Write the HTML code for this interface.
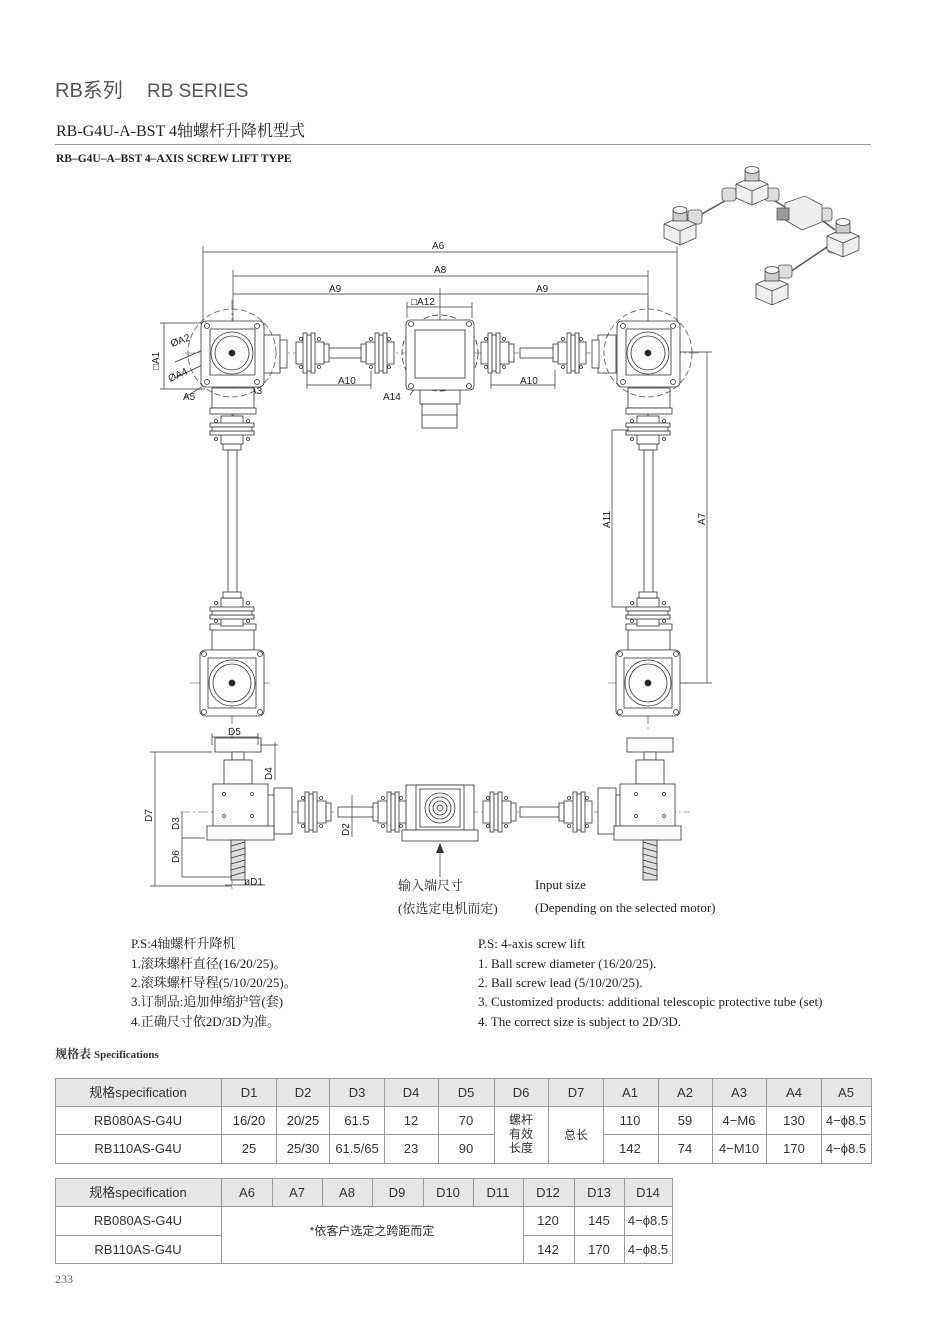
<!DOCTYPE html>
<html><head><meta charset="utf-8"><style>
html,body{margin:0;padding:0;background:#fff;}
svg{display:block;}
.s{font-family:"Liberation Serif","Noto Serif CJK SC",serif;}
.a{font-family:"Liberation Sans","Noto Sans CJK SC",sans-serif;}
</style></head><body>
<svg width="950" height="1319" viewBox="0 0 950 1319" xmlns="http://www.w3.org/2000/svg">
<defs>
<g id="cpH" fill="#fff" stroke="#333" stroke-width="0.8">
<rect x="-14" y="-11" width="28" height="22"/>
<rect x="-7" y="-20" width="4" height="40"/>
<rect x="1" y="-20" width="4" height="40"/>
<rect x="-3" y="-18" width="4" height="36"/>
<circle cx="-9" cy="-14" r="1.5"/><circle cx="-9" cy="14" r="1.5"/>
<circle cx="9" cy="-14" r="1.5"/><circle cx="9" cy="14" r="1.5"/>
<rect x="14" y="-9" width="5" height="18"/>
</g>
<g id="cpV" fill="#fff" stroke="#333" stroke-width="0.8">
<rect x="-11" y="-14" width="22" height="28"/>
<rect x="-22" y="-7" width="44" height="4"/>
<rect x="-22" y="1" width="44" height="4"/>
<rect x="-20" y="-3" width="40" height="4"/>
<circle cx="-16" cy="-9" r="1.5"/><circle cx="16" cy="-9" r="1.5"/>
<circle cx="-16" cy="9" r="1.5"/><circle cx="16" cy="9" r="1.5"/>
<rect x="-9" y="14" width="18" height="6"/>
</g>
<g id="gbTop" stroke="#333" stroke-width="0.8" fill="#fff">
<circle r="44" fill="none" stroke-dasharray="6 3" stroke="#555"/>
<rect x="-31" y="-32" width="63" height="66" rx="5"/>
<rect x="-22" y="-24" width="45" height="46"/>
<circle r="21"/><circle r="17"/>
<circle r="3" fill="#222"/>
<circle cx="-25" cy="-27" r="2.5"/><circle cx="25" cy="-27" r="2.5"/>
<circle cx="-25" cy="29" r="2.5"/><circle cx="25" cy="29" r="2.5"/>
</g>
<g id="gbBot" stroke="#333" stroke-width="0.8" fill="#fff">
<rect x="-32" y="-33" width="64" height="66" rx="5"/>
<rect x="-24" y="-25" width="48" height="50"/>
<circle r="23"/><circle r="19"/>
<circle r="3" fill="#222"/>
<circle cx="-28" cy="-29" r="2.5"/><circle cx="28" cy="-29" r="2.5"/>
<circle cx="-28" cy="29" r="2.5"/><circle cx="28" cy="29" r="2.5"/>
</g>
<g id="jack" stroke="#333" stroke-width="0.8" fill="#fff">
<rect x="-23" y="-70" width="46" height="14"/>
<rect x="-6" y="-56" width="12" height="8"/>
<rect x="-14" y="-48" width="28" height="24"/>
<rect x="-25" y="-24" width="55" height="42"/>
<rect x="-31" y="18" width="67" height="14"/>
<circle cx="-14" cy="-14" r="1.5"/><circle cx="14" cy="-14" r="1.5"/>
<circle cx="-14" cy="8" r="1.5"/><circle cx="14" cy="8" r="1.5"/>
<rect x="-7" y="32" width="14" height="40" fill="#ddd"/>
<path d="M-7 38 L7 34 M-7 44 L7 40 M-7 50 L7 46 M-7 56 L7 52 M-7 62 L7 58 M-7 68 L7 64" stroke="#333"/>
</g>
<g id="isoU" stroke="#444" stroke-width="0.8">
<path d="M-16 4 L0 -3 L16 4 L16 18 L0 25 L-16 18Z" fill="#eee"/>
<path d="M-16 4 L0 11 L16 4 M0 11 L0 25" fill="none"/>
<rect x="-7" y="-9" width="14" height="10" fill="#ccc"/>
<ellipse cx="0" cy="-10" rx="7" ry="3.5" fill="#f4f4f4"/>
</g>
</defs>

<!-- Header -->
<text x="55" y="97" class="a" font-size="20" fill="#555">RB系列</text>
<text x="147" y="97" class="a" font-size="19" fill="#555">RB SERIES</text>
<text x="56" y="136" class="s" font-size="16" fill="#222">RB-G4U-A-BST 4轴螺杆升降机型式</text>
<line x1="55" y1="144.5" x2="871" y2="144.5" stroke="#999" stroke-width="1"/>
<text x="56" y="162" class="s" font-size="11.5" font-weight="bold" fill="#222">RB–G4U–A–BST 4–AXIS SCREW LIFT TYPE</text>

<!-- iso view (approx) -->
<g stroke="#555" stroke-width="1.5">
<line x1="695" y1="218" x2="735" y2="195"/>
<line x1="765" y1="195" x2="790" y2="210"/>
<line x1="815" y1="215" x2="835" y2="230"/>
<line x1="830" y1="245" x2="790" y2="272"/>
</g>
<g stroke="#555" stroke-width="0.8" fill="#ddd">
<rect x="688" y="210" width="14" height="14" rx="3"/>
<rect x="722" y="188" width="14" height="13" rx="3"/><rect x="765" y="188" width="14" height="13" rx="3"/>
<rect x="818" y="208" width="14" height="13" rx="3"/><rect x="828" y="240" width="14" height="13" rx="3"/>
<rect x="778" y="265" width="14" height="13" rx="3"/>
<path d="M785 203 L805 196 L822 205 L822 222 L802 230 L785 220Z" fill="#eee"/>
<rect x="777" y="208" width="12" height="12" fill="#999"/>
</g>
<use href="#isoU" x="680" y="220"/>
<use href="#isoU" x="752" y="180"/>
<use href="#isoU" x="843" y="232"/>
<use href="#isoU" x="772" y="280"/>

<g stroke="#333" stroke-width="0.7" fill="none" class="a" font-size="10">
<!-- top dims -->
<line x1="203" y1="252" x2="677" y2="252"/>
<line x1="203" y1="246" x2="203" y2="335"/><line x1="677" y1="246" x2="677" y2="335"/>
<line x1="233" y1="276" x2="648" y2="276"/>
<line x1="233" y1="270" x2="233" y2="440"/><line x1="648" y1="270" x2="648" y2="440"/>
<line x1="233" y1="294" x2="648" y2="294"/><line x1="440" y1="288" x2="440" y2="405"/>
<line x1="407" y1="307" x2="472" y2="307"/><line x1="407" y1="302" x2="407" y2="318"/><line x1="472" y1="302" x2="472" y2="318"/>
<line x1="160" y1="323" x2="205" y2="323"/><line x1="160" y1="389" x2="205" y2="389"/><line x1="164" y1="323" x2="164" y2="389"/>
<line x1="307" y1="385" x2="371" y2="385"/><line x1="307" y1="370" x2="307" y2="389"/><line x1="371" y1="370" x2="371" y2="389"/>
<line x1="491" y1="385" x2="555" y2="385"/><line x1="491" y1="370" x2="491" y2="389"/><line x1="555" y1="370" x2="555" y2="389"/>
<line x1="612" y1="430" x2="612" y2="607"/><line x1="612" y1="430" x2="630" y2="430"/><line x1="612" y1="607" x2="630" y2="607"/>
<line x1="707" y1="352" x2="707" y2="683"/><line x1="680" y1="352" x2="712" y2="352"/><line x1="680" y1="683" x2="712" y2="683"/>
<line x1="175" y1="362" x2="250" y2="330"/><line x1="175" y1="378" x2="255" y2="340"/>
<line x1="185" y1="397" x2="205" y2="385"/><line x1="240" y1="365" x2="255" y2="390"/>
<line x1="410" y1="395" x2="425" y2="375"/><line x1="415" y1="372" x2="440" y2="353"/>
</g>
<g class="a" font-size="10" fill="#222">
<text x="432" y="249">A6</text><text x="434" y="273">A8</text>
<text x="329" y="292">A9</text><text x="536" y="292">A9</text>
<text x="411" y="305">□A12</text>
<text x="338" y="384">A10</text><text x="520" y="384">A10</text>
<text x="183" y="400">A5</text><text x="250" y="394">A3</text><text x="383" y="400">A14</text>
<text transform="translate(172,347) rotate(-20)">ØA2</text>
<text transform="translate(170,382) rotate(-25)">ØA4</text>
<text transform="translate(420,370) rotate(-35)">ØA13</text>
<text transform="translate(159,370) rotate(-90)">□A1</text>
<text transform="translate(610,528) rotate(-90)">A11</text>
<text transform="translate(705,525) rotate(-90)">A7</text>
</g>

<!-- top view machinery -->
<g stroke="#444" stroke-width="0.6" stroke-dasharray="10 3 2 3" fill="none">
<line x1="185" y1="353" x2="700" y2="353"/>
<line x1="232" y1="300" x2="232" y2="730"/><line x1="648" y1="300" x2="648" y2="730"/>
<line x1="190" y1="683" x2="270" y2="683"/><line x1="608" y1="683" x2="690" y2="683"/>
</g>
<g stroke="#333" stroke-width="0.8" fill="#fff">
<rect x="325" y="348" width="42" height="10"/><rect x="520" y="348" width="42" height="10"/>
<rect x="228" y="450" width="9" height="146"/><rect x="644" y="450" width="9" height="146"/>
<rect x="262" y="335" width="18" height="38"/><rect x="280" y="340" width="7" height="28"/>
<rect x="598" y="335" width="18" height="38"/><rect x="592" y="340" width="7" height="28"/>
<rect x="212" y="388" width="42" height="20"/><rect x="210" y="408" width="46" height="6"/>
<rect x="628" y="388" width="42" height="20"/><rect x="626" y="408" width="46" height="6"/>
<rect x="212" y="628" width="42" height="22"/><rect x="210" y="624" width="46" height="6"/>
<rect x="628" y="628" width="42" height="22"/><rect x="626" y="624" width="46" height="6"/>
<rect x="420" y="390" width="40" height="14"/><rect x="422" y="404" width="35" height="24"/>
<line x1="422" y1="415" x2="457" y2="415"/>
</g>
<use href="#gbTop" x="232" y="353"/>
<use href="#gbTop" x="648" y="353"/>
<g stroke="#333" stroke-width="0.8" fill="#fff">
<circle cx="440" cy="353" r="38" fill="none" stroke-dasharray="6 3"/>
<rect x="406" y="320" width="68" height="70" rx="4"/>
<rect x="415" y="330" width="50" height="48"/>
<circle cx="411" cy="324" r="2.5"/><circle cx="469" cy="324" r="2.5"/><circle cx="411" cy="386" r="2.5"/><circle cx="469" cy="386" r="2.5"/>
</g>
<use href="#cpH" x="310" y="353"/>
<g transform="translate(380,353) scale(-1,1)"><use href="#cpH"/></g>
<use href="#cpH" x="495" y="353"/>
<g transform="translate(572,353) scale(-1,1)"><use href="#cpH"/></g>
<use href="#cpV" x="232" y="430"/>
<g transform="translate(232,612) scale(1,-1)"><use href="#cpV"/></g>
<use href="#cpV" x="648" y="430"/>
<g transform="translate(648,612) scale(1,-1)"><use href="#cpV"/></g>
<use href="#gbBot" x="232" y="683"/>
<use href="#gbBot" x="648" y="683"/>

<!-- front view -->
<g stroke="#444" stroke-width="0.6" stroke-dasharray="10 3 2 3" fill="none">
<line x1="180" y1="812" x2="690" y2="812"/>
<line x1="232" y1="730" x2="232" y2="890"/><line x1="655" y1="740" x2="655" y2="880"/>
</g>
<g stroke="#333" stroke-width="0.8" fill="#fff">
<rect x="338" y="807" width="42" height="10"/><rect x="520" y="807" width="42" height="10"/>
<rect x="262" y="795" width="12" height="34"/><rect x="274" y="788" width="18" height="46"/>
<rect x="598" y="788" width="18" height="46"/><rect x="616" y="795" width="12" height="34"/>
<rect x="406" y="785" width="68" height="45"/>
<rect x="416" y="785" width="48" height="45"/>
<rect x="420" y="789" width="40" height="38"/>
<circle cx="440" cy="808" r="15"/><circle cx="440" cy="808" r="11"/><circle cx="440" cy="808" r="7"/><circle cx="440" cy="808" r="3"/>
<rect x="402" y="830" width="76" height="11"/>
</g>
<use href="#jack" x="238" y="808"/>
<g transform="translate(650,808) scale(-1,1)"><use href="#jack"/></g>
<use href="#cpH" x="312" y="812"/>
<g transform="translate(392,812) scale(-1,1)"><use href="#cpH"/></g>
<use href="#cpH" x="497" y="812"/>
<g transform="translate(578,812) scale(-1,1)"><use href="#cpH"/></g>

<g stroke="#333" stroke-width="0.7" fill="none">
<line x1="212" y1="737" x2="258" y2="737"/><line x1="212" y1="733" x2="212" y2="745"/><line x1="258" y1="733" x2="258" y2="745"/>
<line x1="155" y1="752" x2="155" y2="886"/><line x1="150" y1="752" x2="212" y2="752"/><line x1="150" y1="886" x2="232" y2="886"/>
<line x1="182" y1="812" x2="182" y2="877"/><line x1="182" y1="838" x2="205" y2="838"/><line x1="182" y1="877" x2="232" y2="877"/>
<line x1="275" y1="742" x2="275" y2="780"/><line x1="260" y1="745" x2="278" y2="745"/>
<line x1="352" y1="795" x2="352" y2="837"/>
<line x1="440" y1="877" x2="440" y2="845"/>
<line x1="225" y1="885" x2="265" y2="885"/>
</g>
<path d="M436 853 L440 843 L444 853Z" fill="#333"/>
<g class="a" font-size="10" fill="#222">
<text x="228" y="735">D5</text>
<text transform="translate(152,822) rotate(-90)">D7</text>
<text transform="translate(179,830) rotate(-90)">D3</text>
<text transform="translate(179,863) rotate(-90)">D6</text>
<text transform="translate(272,780) rotate(-90)">D4</text>
<text transform="translate(349,836) rotate(-90)">D2</text>
<text x="244" y="885">øD1</text>
</g>
<text x="398" y="890" class="s" font-size="13" fill="#222">输入端尺寸</text>
<text x="398" y="913" class="s" font-size="13" fill="#222">(依选定电机而定)</text>
<text x="535" y="889" class="s" font-size="13" fill="#222">Input size</text>
<text x="535" y="912" class="s" font-size="13" fill="#222">(Depending on the selected motor)</text>

<!-- notes -->
<g class="s" font-size="13" fill="#222">
<text x="131" y="948">P.S:4轴螺杆升降机</text>
<text x="131" y="968">1.滚珠螺杆直径(16/20/25)。</text>
<text x="131" y="987">2.滚珠螺杆导程(5/10/20/25)。</text>
<text x="131" y="1006">3.订制品:追加伸缩护管(套)</text>
<text x="131" y="1026">4.正确尺寸依2D/3D为准。</text>
<text x="478" y="948">P.S: 4-axis screw lift</text>
<text x="478" y="968">1. Ball screw diameter (16/20/25).</text>
<text x="478" y="987">2. Ball screw lead (5/10/20/25).</text>
<text x="478" y="1006">3. Customized products: additional telescopic protective tube (set)</text>
<text x="478" y="1026">4. The correct size is subject to 2D/3D.</text>
</g>
<text x="55" y="1058" class="s" font-size="12" font-weight="bold" fill="#333">规格表 <tspan font-size="11">Specifications</tspan></text>

<!-- table 1 -->
<rect x="55" y="1078" width="816" height="28" fill="#e6e6e6"/>
<g stroke="#999" stroke-width="1" fill="none">
<rect x="55.5" y="1078.5" width="816" height="85"/>
<line x1="55" y1="1106.5" x2="871" y2="1106.5"/>
<line x1="55" y1="1134.5" x2="494" y2="1134.5"/><line x1="603" y1="1134.5" x2="871" y2="1134.5"/>
<line x1="221.5" y1="1078" x2="221.5" y2="1163"/><line x1="276.5" y1="1078" x2="276.5" y2="1163"/>
<line x1="329.5" y1="1078" x2="329.5" y2="1163"/><line x1="384.5" y1="1078" x2="384.5" y2="1163"/>
<line x1="438.5" y1="1078" x2="438.5" y2="1163"/><line x1="494.5" y1="1078" x2="494.5" y2="1163"/>
<line x1="548.5" y1="1078" x2="548.5" y2="1163"/><line x1="603.5" y1="1078" x2="603.5" y2="1163"/>
<line x1="658.5" y1="1078" x2="658.5" y2="1163"/><line x1="712.5" y1="1078" x2="712.5" y2="1163"/>
<line x1="766.5" y1="1078" x2="766.5" y2="1163"/><line x1="821.5" y1="1078" x2="821.5" y2="1163"/>
</g>
<g class="a" font-size="13" fill="#333" text-anchor="middle">
<text x="138" y="1097">规格specification</text>
<text x="249" y="1097">D1</text><text x="303" y="1097">D2</text><text x="357" y="1097">D3</text>
<text x="411" y="1097">D4</text><text x="466" y="1097">D5</text><text x="521" y="1097">D6</text>
<text x="576" y="1097">D7</text><text x="630" y="1097">A1</text><text x="685" y="1097">A2</text>
<text x="739" y="1097">A3</text><text x="794" y="1097">A4</text><text x="846" y="1097">A5</text>
<text x="138" y="1125">RB080AS-G4U</text>
<text x="249" y="1125">16/20</text><text x="303" y="1125">20/25</text><text x="357" y="1125">61.5</text>
<text x="411" y="1125">12</text><text x="466" y="1125">70</text>
<text x="630" y="1125">110</text><text x="685" y="1125">59</text><text x="739" y="1125">4−M6</text>
<text x="794" y="1125">130</text><text x="846" y="1125">4−ϕ8.5</text>
<text x="138" y="1153">RB110AS-G4U</text>
<text x="249" y="1153">25</text><text x="303" y="1153">25/30</text><text x="357" y="1153">61.5/65</text>
<text x="411" y="1153">23</text><text x="466" y="1153">90</text>
<text x="630" y="1153">142</text><text x="685" y="1153">74</text><text x="739" y="1153">4−M10</text>
<text x="794" y="1153">170</text><text x="846" y="1153">4−ϕ8.5</text>
<text x="521" y="1124" font-size="12">螺杆</text><text x="521" y="1138" font-size="12">有效</text><text x="521" y="1152" font-size="12">长度</text>
<text x="576" y="1139" font-size="12">总长</text>
</g>

<!-- table 2 -->
<rect x="55" y="1178" width="618" height="28" fill="#e6e6e6"/>
<g stroke="#999" stroke-width="1" fill="none">
<rect x="55.5" y="1178.5" width="617" height="85"/>
<line x1="55" y1="1206.5" x2="673" y2="1206.5"/>
<line x1="55" y1="1235.5" x2="221" y2="1235.5"/><line x1="523" y1="1235.5" x2="673" y2="1235.5"/>
<line x1="221.5" y1="1178" x2="221.5" y2="1263"/>
<line x1="272.5" y1="1178" x2="272.5" y2="1206"/><line x1="322.5" y1="1178" x2="322.5" y2="1206"/>
<line x1="372.5" y1="1178" x2="372.5" y2="1206"/><line x1="423.5" y1="1178" x2="423.5" y2="1206"/>
<line x1="473.5" y1="1178" x2="473.5" y2="1206"/>
<line x1="523.5" y1="1178" x2="523.5" y2="1263"/><line x1="574.5" y1="1178" x2="574.5" y2="1263"/>
<line x1="624.5" y1="1178" x2="624.5" y2="1263"/>
</g>
<g class="a" font-size="13" fill="#333" text-anchor="middle">
<text x="138" y="1197">规格specification</text>
<text x="247" y="1197">A6</text><text x="297" y="1197">A7</text><text x="347" y="1197">A8</text>
<text x="397" y="1197">D9</text><text x="448" y="1197">D10</text><text x="498" y="1197">D11</text>
<text x="548" y="1197">D12</text><text x="599" y="1197">D13</text><text x="648" y="1197">D14</text>
<text x="138" y="1225">RB080AS-G4U</text><text x="138" y="1254">RB110AS-G4U</text>
<text x="372" y="1235" font-size="12">*依客户选定之跨距而定</text>
<text x="548" y="1225">120</text><text x="599" y="1225">145</text><text x="648" y="1225">4−ϕ8.5</text>
<text x="548" y="1254">142</text><text x="599" y="1254">170</text><text x="648" y="1254">4−ϕ8.5</text>
</g>
<text x="55" y="1283" class="s" font-size="12" fill="#666">233</text>
</svg>
</body></html>
